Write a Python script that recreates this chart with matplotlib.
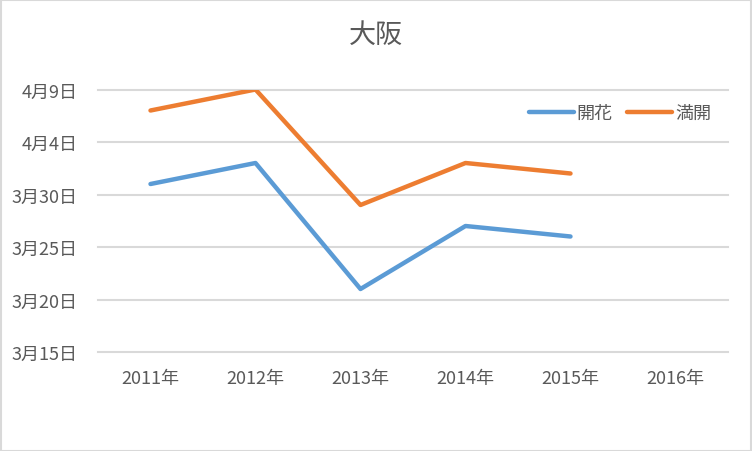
import datetime
import matplotlib
matplotlib.use("Agg")
import matplotlib.pyplot as plt
import matplotlib.dates as mdates
from matplotlib.patches import Rectangle

plt.rcParams['font.family'] = ['Noto Sans CJK JP', 'DejaVu Sans']

# data (month/day, year ignored on the y axis)
years = ['2011年', '2012年', '2013年', '2014年', '2015年', '2016年']
kaika = ['3/31', '4/2', '3/21', '3/27', '3/26']    # 開花
mankai = ['4/7', '4/9', '3/29', '4/2', '4/1']      # 満開
y_ticks = ['3/15', '3/20', '3/25', '3/30', '4/4', '4/9']


def to_num(md):
    m, d = md.split('/')
    return mdates.date2num(datetime.date(2001, int(m), int(d)))


text_col = '#595959'
grid_col = '#D9D9D9'

fig = plt.figure(figsize=(7.52, 4.52), dpi=100)
ax = fig.add_axes([98 / 752, 1 - 353 / 452, 630 / 752, (353 - 90.5) / 452])

x = list(range(len(kaika)))
ax.plot(x, [to_num(v) for v in kaika], color='#5B9BD5', lw=3.2,
        solid_capstyle='round', solid_joinstyle='round', label='開花', zorder=3)
ax.plot(x, [to_num(v) for v in mankai], color='#ED7D31', lw=3.2,
        solid_capstyle='round', solid_joinstyle='round', label='満開', zorder=3)

ticks = [to_num(v) for v in y_ticks]
ax.set_ylim(ticks[0], ticks[-1])
ax.set_yticks(ticks)
ax.set_yticklabels([f"{v.split('/')[0]}月{v.split('/')[1]}日" for v in y_ticks])
ax.set_xlim(-0.5, len(years) - 0.5)
ax.set_xticks(range(len(years)))
ax.set_xticklabels(years)

for t in ticks:
    ax.axhline(t, color=grid_col, lw=1.5, zorder=1, clip_on=False)

for s in ax.spines.values():
    s.set_visible(False)
ax.tick_params(axis='both', length=0, labelsize=13, colors=text_col)
ax.tick_params(axis='y', pad=14.5)
ax.tick_params(axis='x', pad=12)

fig.text(376 / 752, 1 - 35 / 452, '大阪', ha='center', va='center',
         fontsize=19.5, color=text_col)

leg = ax.legend(loc='center', bbox_to_anchor=(620 / 752, 1 - 114 / 452),
                bbox_transform=fig.transFigure, ncol=2, frameon=False,
                fontsize=13, handlelength=2.5, handletextpad=0.15,
                columnspacing=0.8)
for txt in leg.get_texts():
    txt.set_color(text_col)

fig.patches.append(Rectangle((0.5 / 752, 0.5 / 452), 1 - 1.5 / 752, 1 - 1.5 / 452,
                             transform=fig.transFigure, fill=False,
                             edgecolor=grid_col, lw=1.5))

fig.savefig('out.png', dpi=100)
